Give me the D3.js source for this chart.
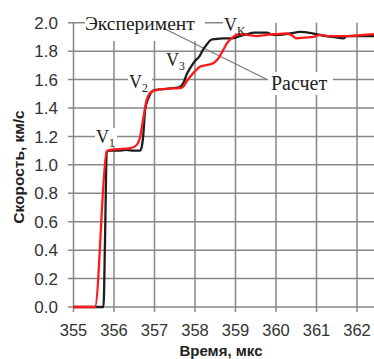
<!DOCTYPE html>
<html><head><meta charset="utf-8">
<script src="https://cdn.jsdelivr.net/npm/d3@7"></script>
<style>body{margin:0;background:#fff}svg{display:block}</style>
</head><body>
<script>
const xTicks = [355, 356, 357, 358, 359, 360, 361, 362];
const yTicks = [0.0, 0.2, 0.4, 0.6, 0.8, 1.0, 1.2, 1.4, 1.6, 1.8, 2.0];

const tBlack = [355.0, 355.74, 355.78, 355.82, 355.9, 356.1, 356.3, 356.5, 356.64, 356.68, 356.72, 356.77, 356.85, 356.92, 357.0, 357.3, 357.6, 357.72, 357.8, 357.88, 358.0, 358.1, 358.2, 358.3, 358.4, 358.5, 358.7, 358.9, 359.1, 359.3, 359.45, 359.6, 359.77, 359.93, 360.1, 360.35, 360.6, 360.9, 361.15, 361.4, 361.66, 361.75, 361.9, 362.1, 362.42];
const vBlack = [0, 0, 0.5, 1.09, 1.10, 1.10, 1.105, 1.10, 1.10, 1.12, 1.20, 1.39, 1.47, 1.51, 1.525, 1.535, 1.545, 1.58, 1.64, 1.68, 1.73, 1.76, 1.81, 1.85, 1.88, 1.885, 1.89, 1.89, 1.905, 1.92, 1.93, 1.93, 1.93, 1.915, 1.915, 1.925, 1.935, 1.925, 1.91, 1.90, 1.89, 1.905, 1.905, 1.905, 1.905];

const tRed = [355.0, 355.53, 355.82, 355.9, 356.1, 356.4, 356.56, 356.64, 356.72, 356.81, 356.93, 357.05, 357.3, 357.63, 357.71, 357.8, 357.88, 358.04, 358.12, 358.25, 358.45, 358.58, 358.7, 358.8, 358.9, 359.1, 359.3, 359.52, 359.77, 360.0, 360.26, 360.4, 360.51, 360.7, 360.92, 361.1, 361.3, 361.5, 361.75, 362.0, 362.42];
const vRed = [0, 0, 1.095, 1.105, 1.11, 1.117, 1.14, 1.19, 1.32, 1.46, 1.515, 1.525, 1.535, 1.54, 1.55, 1.59, 1.62, 1.67, 1.69, 1.70, 1.715, 1.75, 1.81, 1.86, 1.89, 1.92, 1.915, 1.905, 1.915, 1.92, 1.925, 1.91, 1.89, 1.895, 1.90, 1.915, 1.905, 1.905, 1.905, 1.91, 1.92];

const W = 374, H = 359;
const svg = d3.select("body").append("svg").attr("width", W).attr("height", H);
const x = d3.scaleLinear().domain([355, 362.42]).range([73.5, 374]);
const y = d3.scaleLinear().domain([0, 2]).range([307, 22.7]);
const gridCol = "#878787";
const sans = "Liberation Sans, Arial, sans-serif";

// grid
const g = svg.append("g");
g.selectAll("line.h").data(yTicks.filter(d => d < 2)).join("line")
  .attr("x1", 68).attr("x2", W).attr("y1", d => y(d)).attr("y2", d => y(d))
  .attr("stroke", gridCol).attr("stroke-width", 1.5);
g.append("line").attr("x1", 68).attr("x2", x(359.3)).attr("y1", y(2)).attr("y2", y(2))
  .attr("stroke", gridCol).attr("stroke-width", 1.5);
g.selectAll("line.v").data(xTicks).join("line")
  .attr("x1", d => x(d)).attr("x2", d => x(d)).attr("y1", y(2)).attr("y2", 312)
  .attr("stroke", gridCol).attr("stroke-width", 1.5);

// tick labels
svg.append("g").selectAll("text").data(yTicks).join("text")
  .attr("x", 58).attr("y", d => y(d)).attr("dy", "0.36em").attr("text-anchor", "end")
  .attr("font-family", sans).attr("font-size", 17).attr("fill", "#333")
  .text(d => d.toFixed(1));
svg.append("g").selectAll("text").data(xTicks).join("text")
  .attr("x", d => x(d)).attr("y", 336).attr("text-anchor", "middle")
  .attr("font-family", sans).attr("font-size", 16.5).attr("fill", "#333")
  .text(d => d);

// axis titles
svg.append("text").attr("transform", "translate(24,167) rotate(-90)").attr("text-anchor", "middle")
  .attr("font-family", sans).attr("font-size", 15.5).attr("font-weight", "bold").attr("fill", "#222")
  .text("Скорость, км/с");
svg.append("text").attr("x", 221).attr("y", 355.5).attr("text-anchor", "middle")
  .attr("font-family", sans).attr("font-size", 15).attr("font-weight", "bold").attr("fill", "#222")
  .text("Время, мкс");

// label boxes (white)
const boxes = [[85, 0, 120, 41], [223, 12, 27, 21], [267, 72, 66, 23], [95, 128, 22, 18], [128, 72, 24, 21], [165, 52, 23, 18]];
svg.append("g").selectAll("rect").data(boxes).join("rect")
  .attr("x", d => d[0]).attr("y", d => d[1]).attr("width", d => d[2]).attr("height", d => d[3]).attr("fill", "#fff");

// leader line
svg.append("line").attr("x1", 163).attr("y1", 28).attr("x2", 268).attr("y2", 80)
  .attr("stroke", "#7a7a7a").attr("stroke-width", 1.3);

// curves
const line = d3.line().x(d => x(d[0])).y(d => y(d[1])).curve(d3.curveMonotoneX);
svg.append("path").datum(d3.zip(tBlack, vBlack)).attr("d", line)
  .attr("fill", "none").attr("stroke", "#1c1c1c").attr("stroke-width", 2.3);
svg.append("path").datum(d3.zip(tRed, vRed)).attr("d", line)
  .attr("fill", "none").attr("stroke", "#ff1a1a").attr("stroke-width", 2.3);

// labels
const serif = "Liberation Serif, Times New Roman, serif";
function lab(xp, yp, main, sub, fs) {
  const t = svg.append("text").attr("x", xp).attr("y", yp).attr("font-family", serif)
    .attr("font-size", fs).attr("fill", "#222");
  t.append("tspan").text(main);
  if (sub) t.append("tspan").attr("dy", 4).attr("font-size", fs * 0.65).text(sub);
}
lab(85, 30, "Эксперимент", null, 19.5);
lab(271, 90, "Расчет", null, 20);
lab(224, 31, "V", "K", 18);
lab(96, 143, "V", "1", 18);
lab(129, 88, "V", "2", 18);
lab(166, 66, "V", "3", 18);
</script>
</body></html>
